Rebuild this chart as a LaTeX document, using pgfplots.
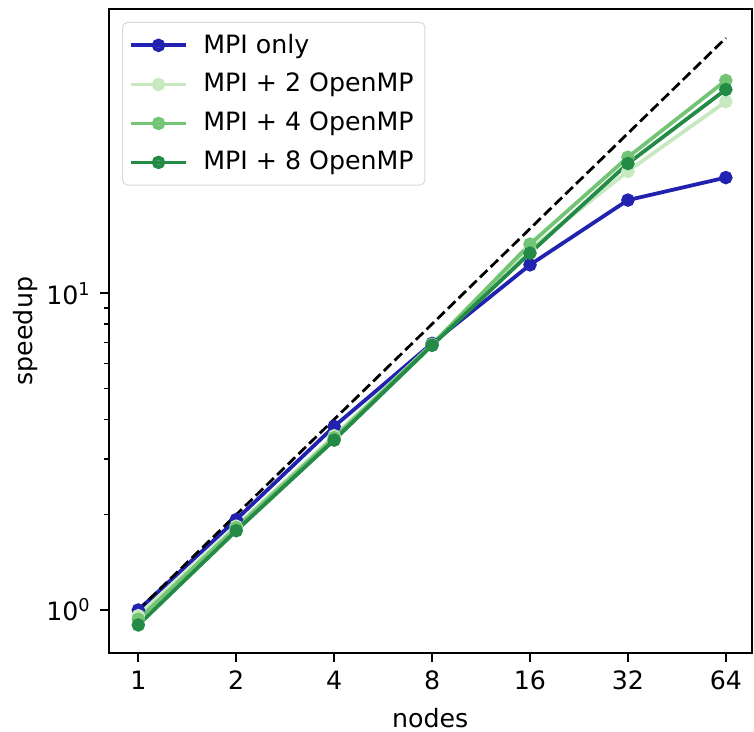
\documentclass[border=0pt]{standalone}
\usepackage{fontspec}
\setmainfont{DejaVu Sans}
\usepackage{pgfplots}
\pgfplotsset{compat=1.18}
\definecolor{cblue}{RGB}{34,34,176}
\definecolor{g2}{RGB}{199,233,192}
\definecolor{g4}{RGB}{116,196,118}
\definecolor{g8}{RGB}{35,139,69}
\begin{document}
\begin{tikzpicture}
\useasboundingbox (-43.05pt,-30.9pt) rectangle (255.5pt,258.6pt);
\begin{axis}[
  at={(0pt,0pt)}, anchor=south west,
  scale only axis, width=254.6pt, height=255.0pt,
  xmode=log, ymode=log, log basis x=2,
  xmin=0.811, xmax=76.9, ymin=0.731, ymax=79.0,
  xtick={1,2,4,8,16,32,64}, xticklabels={1,2,4,8,16,32,64},
  xminorticks=false,
  ytick={1,10}, yticklabels={10\textsuperscript{0},10\textsuperscript{1}},
  tick align=outside, xtick pos=bottom, ytick pos=left,
  major tick length=3.5pt, minor tick length=2pt,
  every tick/.style={black, line width=0.8pt},
  minor tick style={line width=0.6pt},
  axis line style={line width=0.8pt},
  /pgf/number format/assume math mode=true,
  xlabel={nodes}, ylabel={speedup},
  xlabel style={at={(axis description cs:0.5,-0.101)}, anchor=center},
  ylabel style={at={(axis description cs:-0.130,0.5)}, anchor=center},
  legend style={at={(0.0207,0.98)}, anchor=north west, draw=black!15,
    rounded corners=2pt, fill=white, fill opacity=0.8, text opacity=1,
    inner sep=2.5pt, row sep=2.5pt, font=\fontsize{10}{12}\selectfont,
    /tikz/every odd column/.append style={column sep=4pt}},
  legend cell align=left,
  legend image code/.code={\draw[mark repeat=2,mark phase=2,#1] plot coordinates {(0pt,0pt)(11pt,0pt)(22pt,0pt)};},
  every axis plot/.append style={line width=1.5pt, mark=*, mark size=1.9pt},
]
\addplot[cblue, mark options={fill=cblue}] coordinates {(1,1.0)(2,1.93)(4,3.8)(8,6.95)(16,12.3)(32,19.7)(64,23.2)};
\addlegendentry{MPI only}
\addplot[g2, mark options={fill=g2}] coordinates {(1,0.96)(2,1.84)(4,3.55)(8,6.9)(16,13.8)(32,24.3)(64,40.3)};
\addlegendentry{MPI + 2 OpenMP}
\addplot[g4, mark options={fill=g4}] coordinates {(1,0.935)(2,1.82)(4,3.5)(8,6.9)(16,14.3)(32,26.9)(64,47)};
\addlegendentry{MPI + 4 OpenMP}
\addplot[g8, mark options={fill=g8}] coordinates {(1,0.897)(2,1.78)(4,3.44)(8,6.85)(16,13.4)(32,25.7)(64,44)};
\addlegendentry{MPI + 8 OpenMP}
\addplot[black, line width=1.1pt, dash pattern=on 4.1pt off 1.8pt, mark=none, forget plot] coordinates {(1,1)(64,64)};
\end{axis}
\end{tikzpicture}
\end{document}
